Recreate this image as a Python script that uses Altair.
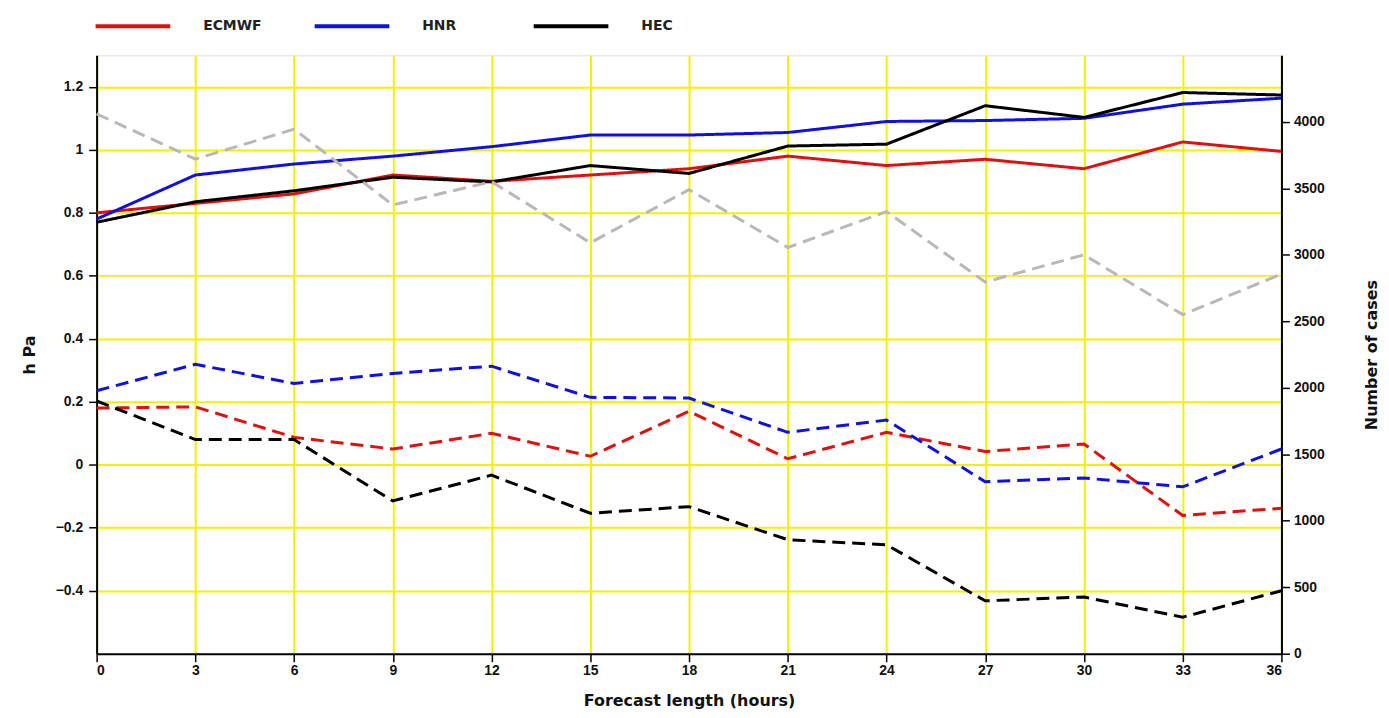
import altair as alt
import pandas as pd

hours = [0, 3, 6, 9, 12, 15, 18, 21, 24, 27, 30, 33, 36]
models = ["ECMWF", "HNR", "HEC"]
ecmwf_rmse = [0.80, 0.83, 0.86, 0.92, 0.90, 0.92, 0.94, 0.98, 0.95, 0.97, 0.94, 1.025, 0.995]
hnr_rmse = [0.78, 0.92, 0.955, 0.98, 1.01, 1.047, 1.047, 1.055, 1.09, 1.093, 1.10, 1.145, 1.164]
hec_rmse = [0.77, 0.835, 0.87, 0.913, 0.898, 0.95, 0.925, 1.012, 1.018, 1.14, 1.103, 1.182, 1.174]
ecmwf_bias = [0.18, 0.184, 0.087, 0.05, 0.10, 0.027, 0.17, 0.019, 0.103, 0.042, 0.066, -0.161, -0.138]
hnr_bias = [0.235, 0.319, 0.258, 0.29, 0.313, 0.214, 0.212, 0.103, 0.142, -0.054, -0.042, -0.07, 0.05]
hec_bias = [0.2025, 0.08, 0.08, -0.115, -0.033, -0.154, -0.133, -0.238, -0.254, -0.432, -0.42, -0.484, -0.40]
cases = [4060, 3720, 3945, 3375, 3550, 3090, 3490, 3055, 3325, 2795, 3000, 2550, 2855]

rows = []
for m, rm, bi in zip(models, [ecmwf_rmse, hnr_rmse, hec_rmse], [ecmwf_bias, hnr_bias, hec_bias]):
    for h, v in zip(hours, rm):
        rows.append({"hour": h, "model": m, "kind": "rmse", "value": v})
    for h, v in zip(hours, bi):
        rows.append({"hour": h, "model": m, "kind": "bias", "value": v})
df = pd.DataFrame(rows)
df_cases = pd.DataFrame({"hour": hours, "cases": cases})

YELLOW = "#f2f200"
LABEL_FONT = "Liberation Sans Narrow, Liberation Sans, Arial Narrow, sans-serif"
TITLE_FONT = "DejaVu Sans"

x_enc = alt.X(
    "hour:Q",
    scale=alt.Scale(domain=[0, 36], nice=False, zero=False),
    axis=alt.Axis(
        values=hours, title="Forecast length (hours)", grid=True, gridColor=YELLOW,
        gridWidth=2, domainColor="black", domainWidth=2, tickColor="black",
        tickWidth=1.5, tickSize=8, labelFont=LABEL_FONT, labelFontSize=14,
        labelFontWeight="bold", labelColor="#111", labelPadding=2,
        titleFont=TITLE_FONT, titleFontSize=16, titleFontWeight="bold",
        titlePadding=15, titleColor="#111",
    ),
)

lines = alt.Chart(df).mark_line(strokeWidth=3).encode(
    x=x_enc,
    y=alt.Y(
        "value:Q",
        scale=alt.Scale(domain=[-0.6, 1.3], nice=False, zero=False),
        axis=alt.Axis(
            orient="left", values=[-0.4, -0.2, 0, 0.2, 0.4, 0.6, 0.8, 1.0, 1.2],
            format=".1~f", title="h Pa", grid=True, gridColor=YELLOW, gridWidth=2,
            domainColor="black", domainWidth=2, tickColor="black", tickWidth=1.5,
            tickSize=8, labelFont=LABEL_FONT, labelFontSize=14, labelFontWeight="bold",
            labelColor="#111", labelPadding=6, titleFont=TITLE_FONT, titleFontSize=16,
            titleFontWeight="bold", titlePadding=18, titleColor="#111",
        ),
    ),
    color=alt.Color(
        "model:N",
        scale=alt.Scale(domain=models, range=["#e01010", "#1010e0", "#000000"]),
        legend=alt.Legend(
            title=None, orient="none", legendX=-3, legendY=-69, direction="horizontal",
            symbolType="stroke", symbolSize=5625, symbolStrokeWidth=4,
            labelOffset=31, columnPadding=45, gridAlign="all",
            labelFont=TITLE_FONT, labelFontSize=14, labelFontWeight="bold",
            labelColor="#222",
        ),
    ),
    strokeDash=alt.StrokeDash(
        "kind:N",
        scale=alt.Scale(domain=["rmse", "bias"], range=[[1, 0], [13, 7]]),
        legend=None,
    ),
    detail="kind:N",
)

gray = alt.Chart(df_cases).mark_line(strokeWidth=3, color="#b8b8b8", strokeDash=[13, 7]).encode(
    x=alt.X("hour:Q", scale=alt.Scale(domain=[0, 36], nice=False, zero=False)),
    y=alt.Y(
        "cases:Q",
        scale=alt.Scale(domain=[0, 4500], nice=False),
        axis=alt.Axis(
            orient="right", values=[0, 500, 1000, 1500, 2000, 2500, 3000, 3500, 4000],
            format="d", title="Number of cases", grid=False, domainColor="black",
            domainWidth=2, tickColor="black", tickWidth=1.5, tickSize=8,
            labelFont=LABEL_FONT, labelFontSize=14, labelFontWeight="bold",
            labelColor="#111", labelPadding=4, titleFont=TITLE_FONT, titleFontSize=16,
            titleFontWeight="bold", titlePadding=55, titleColor="#111", titleAngle=270,
        ),
    ),
)

chart = (
    alt.layer(lines, gray)
    .resolve_scale(y="independent")
    .properties(
        width=1190, height=601,
        autosize=alt.AutoSizeParams(type="none"),
        padding={"left": 89, "top": 46, "right": 100, "bottom": 62},
    )
    .configure_view(stroke=None)
    .configure(background="white")
)

chart.save("out.html", embed_options={"renderer": "svg", "actions": False})
